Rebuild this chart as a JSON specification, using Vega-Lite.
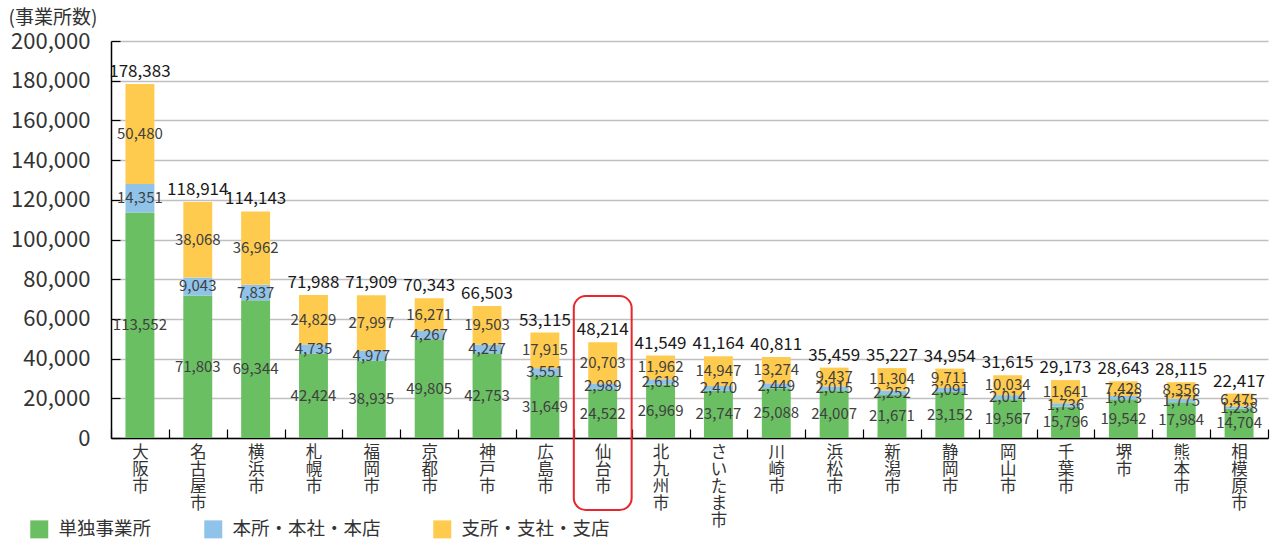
{
  "$schema": "https://vega.github.io/schema/vega-lite/v6.json",
  "width": 1157,
  "height": 397,
  "autosize": {"type": "none"},
  "padding": {"left": 111, "top": 41, "right": 3, "bottom": 101},
  "config": {
    "font": "Noto Sans CJK JP",
    "view": {"stroke": null},
    "axisY": {
      "titleAngle": 0,
      "titleAlign": "left",
      "titleBaseline": "middle",
      "titleX": -103,
      "titleY": -24,
      "titleFontSize": 19,
      "titleFontWeight": "normal",
      "titleColor": "#333333",
      "labelFontSize": 22,
      "labelColor": "#333333",
      "labelPadding": 30,
      "labelOverlap": false,
      "tickSize": -9,
      "tickColor": "#000000",
      "tickWidth": 1.2,
      "domainColor": "#000000",
      "domainWidth": 1.5,
      "gridColor": "#c0c0c0",
      "gridWidth": 1.5
    }
  },
  "datasets": {
    "typeRank": [
      {"type": "単独事業所", "rank": 1},
      {"type": "本所・本社・本店", "rank": 2},
      {"type": "支所・支社・支店", "rank": 3}
    ]
  },
  "data": {"values": [
    {"city": "大阪市", "type": "単独事業所", "count": 113552},
    {"city": "大阪市", "type": "本所・本社・本店", "count": 14351},
    {"city": "大阪市", "type": "支所・支社・支店", "count": 50480},
    {"city": "名古屋市", "type": "単独事業所", "count": 71803},
    {"city": "名古屋市", "type": "本所・本社・本店", "count": 9043},
    {"city": "名古屋市", "type": "支所・支社・支店", "count": 38068},
    {"city": "横浜市", "type": "単独事業所", "count": 69344},
    {"city": "横浜市", "type": "本所・本社・本店", "count": 7837},
    {"city": "横浜市", "type": "支所・支社・支店", "count": 36962},
    {"city": "札幌市", "type": "単独事業所", "count": 42424},
    {"city": "札幌市", "type": "本所・本社・本店", "count": 4735},
    {"city": "札幌市", "type": "支所・支社・支店", "count": 24829},
    {"city": "福岡市", "type": "単独事業所", "count": 38935},
    {"city": "福岡市", "type": "本所・本社・本店", "count": 4977},
    {"city": "福岡市", "type": "支所・支社・支店", "count": 27997},
    {"city": "京都市", "type": "単独事業所", "count": 49805},
    {"city": "京都市", "type": "本所・本社・本店", "count": 4267},
    {"city": "京都市", "type": "支所・支社・支店", "count": 16271},
    {"city": "神戸市", "type": "単独事業所", "count": 42753},
    {"city": "神戸市", "type": "本所・本社・本店", "count": 4247},
    {"city": "神戸市", "type": "支所・支社・支店", "count": 19503},
    {"city": "広島市", "type": "単独事業所", "count": 31649},
    {"city": "広島市", "type": "本所・本社・本店", "count": 3551},
    {"city": "広島市", "type": "支所・支社・支店", "count": 17915},
    {"city": "仙台市", "type": "単独事業所", "count": 24522},
    {"city": "仙台市", "type": "本所・本社・本店", "count": 2989},
    {"city": "仙台市", "type": "支所・支社・支店", "count": 20703},
    {"city": "北九州市", "type": "単独事業所", "count": 26969},
    {"city": "北九州市", "type": "本所・本社・本店", "count": 2618},
    {"city": "北九州市", "type": "支所・支社・支店", "count": 11962},
    {"city": "さいたま市", "type": "単独事業所", "count": 23747},
    {"city": "さいたま市", "type": "本所・本社・本店", "count": 2470},
    {"city": "さいたま市", "type": "支所・支社・支店", "count": 14947},
    {"city": "川崎市", "type": "単独事業所", "count": 25088},
    {"city": "川崎市", "type": "本所・本社・本店", "count": 2449},
    {"city": "川崎市", "type": "支所・支社・支店", "count": 13274},
    {"city": "浜松市", "type": "単独事業所", "count": 24007},
    {"city": "浜松市", "type": "本所・本社・本店", "count": 2015},
    {"city": "浜松市", "type": "支所・支社・支店", "count": 9437},
    {"city": "新潟市", "type": "単独事業所", "count": 21671},
    {"city": "新潟市", "type": "本所・本社・本店", "count": 2252},
    {"city": "新潟市", "type": "支所・支社・支店", "count": 11304},
    {"city": "静岡市", "type": "単独事業所", "count": 23152},
    {"city": "静岡市", "type": "本所・本社・本店", "count": 2091},
    {"city": "静岡市", "type": "支所・支社・支店", "count": 9711},
    {"city": "岡山市", "type": "単独事業所", "count": 19567},
    {"city": "岡山市", "type": "本所・本社・本店", "count": 2014},
    {"city": "岡山市", "type": "支所・支社・支店", "count": 10034},
    {"city": "千葉市", "type": "単独事業所", "count": 15796},
    {"city": "千葉市", "type": "本所・本社・本店", "count": 1736},
    {"city": "千葉市", "type": "支所・支社・支店", "count": 11641},
    {"city": "堺市", "type": "単独事業所", "count": 19542},
    {"city": "堺市", "type": "本所・本社・本店", "count": 1673},
    {"city": "堺市", "type": "支所・支社・支店", "count": 7428},
    {"city": "熊本市", "type": "単独事業所", "count": 17984},
    {"city": "熊本市", "type": "本所・本社・本店", "count": 1775},
    {"city": "熊本市", "type": "支所・支社・支店", "count": 8356},
    {"city": "相模原市", "type": "単独事業所", "count": 14704},
    {"city": "相模原市", "type": "本所・本社・本店", "count": 1238},
    {"city": "相模原市", "type": "支所・支社・支店", "count": 6475}
  ]},
  "transform": [
    {"lookup": "type", "from": {"data": {"name": "typeRank"}, "key": "type", "fields": ["rank"]}}
  ],
  "encoding": {
    "x": {
      "field": "city", "type": "nominal",
      "scale": {
        "domain": ["大阪市","名古屋市","横浜市","札幌市","福岡市","京都市","神戸市","広島市","仙台市","北九州市","さいたま市","川崎市","浜松市","新潟市","静岡市","岡山市","千葉市","堺市","熊本市","相模原市"],
        "paddingInner": 0, "paddingOuter": 0
      },
      "axis": {
        "title": null,
        "labelExpr": "split(datum.label, '')",
        "labelAngle": 0,
        "labelFontSize": 16.5,
        "labelLineHeight": 17.2,
        "labelBaseline": "top",
        "labelColor": "#333333",
        "labelPadding": 15,
        "labelOverlap": false,
        "tickBand": "extent",
        "tickSize": -9,
        "tickColor": "#000000",
        "domainColor": "#000000",
        "domainWidth": 1.5,
        "tickWidth": 1.2
      }
    }
  },
  "layer": [
    {
      "mark": {"type": "bar", "width": {"band": 0.5}},
      "encoding": {
        "y": {
          "field": "count", "type": "quantitative", "stack": "zero",
          "scale": {"domain": [0, 200000], "nice": false},
          "axis": {
            "values": [0, 20000, 40000, 60000, 80000, 100000, 120000, 140000, 160000, 180000, 200000],
            "tickCount": 11,
            "format": ",.0f",
            "labelOverlap": false,
            "title": "(事業所数)"
          }
        },
        "order": {"field": "rank", "type": "quantitative", "sort": "ascending"},
        "color": {
          "field": "type", "type": "nominal",
          "scale": {
            "domain": ["単独事業所", "本所・本社・本店", "支所・支社・支店"],
            "range": ["#6abf63", "#8fc3ea", "#ffcb4e"]
          },
          "legend": {
            "title": null,
            "orient": "none",
            "legendX": -81,
            "legendY": 479,
            "direction": "horizontal",
            "columns": 3,
            "columnPadding": 52,
            "symbolType": "square",
            "symbolSize": 324,
            "symbolStrokeWidth": 0,
            "labelFontSize": 18.5,
            "labelColor": "#333333",
            "labelOffset": 10,
            "labelLimit": 300
          }
        }
      }
    },
    {
      "mark": {"type": "text", "fontSize": 15, "baseline": "middle", "color": "#404040"},
      "encoding": {
        "y": {
          "field": "count", "type": "quantitative", "stack": "zero", "bandPosition": 0.5,
          "axis": {
            "values": [0, 20000, 40000, 60000, 80000, 100000, 120000, 140000, 160000, 180000, 200000],
            "tickCount": 11,
            "format": ",.0f",
            "labelOverlap": false,
            "title": "(事業所数)"
          }
        },
        "text": {"field": "count", "type": "quantitative", "format": ",.0f"},
        "detail": {"field": "type", "type": "nominal"},
        "order": {"field": "rank", "type": "quantitative", "sort": "ascending"}
      }
    },
    {
      "transform": [{"aggregate": [{"op": "sum", "field": "count", "as": "total"}], "groupby": ["city"]}],
      "mark": {"type": "text", "fontSize": 17, "baseline": "bottom", "dy": -3, "color": "#1a1a1a"},
      "encoding": {
        "y": {
          "field": "total", "type": "quantitative",
          "axis": {
            "values": [0, 20000, 40000, 60000, 80000, 100000, 120000, 140000, 160000, 180000, 200000],
            "tickCount": 11,
            "format": ",.0f",
            "labelOverlap": false,
            "title": "(事業所数)"
          }
        },
        "text": {"field": "total", "type": "quantitative", "format": ",.0f"}
      }
    },
    {
      "transform": [{"filter": "datum.city === '仙台市' && datum.type === '単独事業所'"}],
      "mark": {"type": "rect", "filled": false, "stroke": "#e8262b", "strokeWidth": 2, "cornerRadius": 12},
      "encoding": {
        "y": {
          "datum": 71500, "type": "quantitative",
          "axis": {
            "values": [0, 20000, 40000, 60000, 80000, 100000, 120000, 140000, 160000, 180000, 200000],
            "tickCount": 11,
            "format": ",.0f",
            "labelOverlap": false,
            "title": "(事業所数)"
          }
        },
        "y2": {"datum": -36300}
      }
    }
  ]
}
